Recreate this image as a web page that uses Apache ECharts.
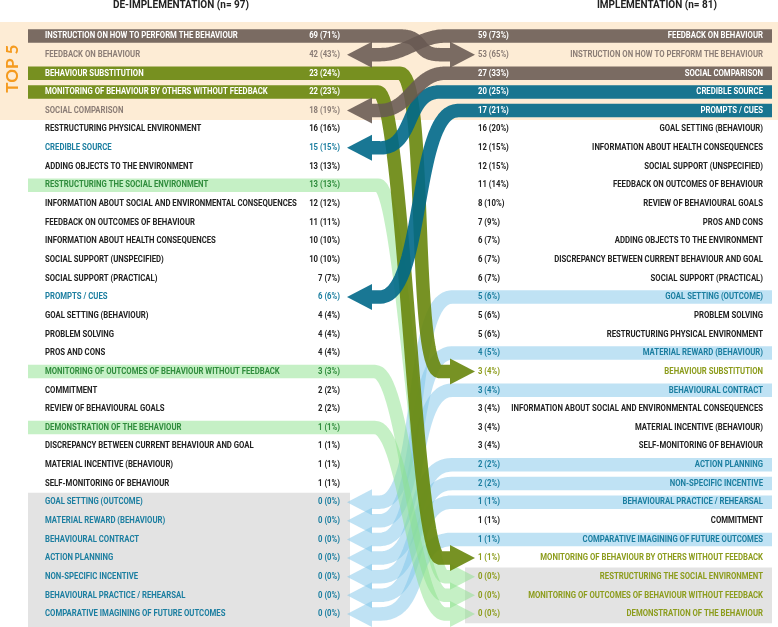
<!DOCTYPE html>
<html><head><meta charset="utf-8">
<script src="https://cdn.jsdelivr.net/npm/echarts@6/dist/echarts.min.js"></script>
<style>html,body{margin:0;padding:0;background:#fff}#c{width:778px;height:627px}</style>
</head><body><div id="c"></div>
<script>
// ---------------- DATA ----------------
const leftTitle = 'DE-IMPLEMENTATION (n= 97)';
const rightTitle = 'IMPLEMENTATION (n= 81)';
const topLabel = 'TOP 5';
const leftLabels = [
 'INSTRUCTION ON HOW TO PERFORM THE BEHAVIOUR','FEEDBACK ON BEHAVIOUR','BEHAVIOUR SUBSTITUTION',
 'MONITORING OF BEHAVIOUR BY OTHERS WITHOUT FEEDBACK','SOCIAL COMPARISON','RESTRUCTURING PHYSICAL ENVIRONMENT',
 'CREDIBLE SOURCE','ADDING OBJECTS TO THE ENVIRONMENT','RESTRUCTURING THE SOCIAL ENVIRONMENT',
 'INFORMATION ABOUT SOCIAL AND ENVIRONMENTAL CONSEQUENCES','FEEDBACK ON OUTCOMES OF BEHAVIOUR',
 'INFORMATION ABOUT HEALTH CONSEQUENCES','SOCIAL SUPPORT (UNSPECIFIED)','SOCIAL SUPPORT (PRACTICAL)',
 'PROMPTS / CUES','GOAL SETTING (BEHAVIOUR)','PROBLEM SOLVING','PROS AND CONS',
 'MONITORING OF OUTCOMES OF BEHAVIOUR WITHOUT FEEDBACK','COMMITMENT','REVIEW OF BEHAVIOURAL GOALS',
 'DEMONSTRATION OF THE BEHAVIOUR','DISCREPANCY BETWEEN CURRENT BEHAVIOUR AND GOAL',
 'MATERIAL INCENTIVE (BEHAVIOUR)','SELF-MONITORING OF BEHAVIOUR','GOAL SETTING (OUTCOME)',
 'MATERIAL REWARD (BEHAVIOUR)','BEHAVIOURAL CONTRACT','ACTION PLANNING','NON-SPECIFIC INCENTIVE',
 'BEHAVIOURAL PRACTICE / REHEARSAL','COMPARATIVE IMAGINING OF FUTURE OUTCOMES'
];
const leftCounts   = [69,42,23,22,18,16,15,13,13,12,11,10,10,7,6,4,4,4,3,2,2,1,1,1,1,0,0,0,0,0,0,0];
const leftPercents = [71,43,24,23,19,16,15,13,13,12,11,10,10,7,6,4,4,4,3,2,2,1,1,1,1,0,0,0,0,0,0,0];
const rightLabels = [
 'FEEDBACK ON BEHAVIOUR','INSTRUCTION ON HOW TO PERFORM THE BEHAVIOUR','SOCIAL COMPARISON','CREDIBLE SOURCE',
 'PROMPTS / CUES','GOAL SETTING (BEHAVIOUR)','INFORMATION ABOUT HEALTH CONSEQUENCES','SOCIAL SUPPORT (UNSPECIFIED)',
 'FEEDBACK ON OUTCOMES OF BEHAVIOUR','REVIEW OF BEHAVIOURAL GOALS','PROS AND CONS','ADDING OBJECTS TO THE ENVIRONMENT',
 'DISCREPANCY BETWEEN CURRENT BEHAVIOUR AND GOAL','SOCIAL SUPPORT (PRACTICAL)','GOAL SETTING (OUTCOME)',
 'PROBLEM SOLVING','RESTRUCTURING PHYSICAL ENVIRONMENT','MATERIAL REWARD (BEHAVIOUR)','BEHAVIOUR SUBSTITUTION',
 'BEHAVIOURAL CONTRACT','INFORMATION ABOUT SOCIAL AND ENVIRONMENTAL CONSEQUENCES','MATERIAL INCENTIVE (BEHAVIOUR)',
 'SELF-MONITORING OF BEHAVIOUR','ACTION PLANNING','NON-SPECIFIC INCENTIVE','BEHAVIOURAL PRACTICE / REHEARSAL',
 'COMMITMENT','COMPARATIVE IMAGINING OF FUTURE OUTCOMES','MONITORING OF BEHAVIOUR BY OTHERS WITHOUT FEEDBACK',
 'RESTRUCTURING THE SOCIAL ENVIRONMENT','MONITORING OF OUTCOMES OF BEHAVIOUR WITHOUT FEEDBACK','DEMONSTRATION OF THE BEHAVIOUR'
];
const rightCounts   = [59,53,27,20,17,16,12,12,11,8,7,6,6,6,5,5,5,4,3,3,3,3,3,2,2,1,1,1,1,0,0,0];
const rightPercents = [73,65,33,25,21,20,15,15,14,10,9,7,7,7,6,6,6,5,4,4,4,4,4,2,2,1,1,1,1,0,0,0];
// links: [fromSide, fromRow, toRow, group]
const links = [
 ['R',14,25,'blue'],['R',17,26,'blue'],['R',19,27,'blue'],['R',23,28,'blue'],
 ['R',24,29,'blue'],['R',25,30,'blue'],['R',27,31,'blue'],
 ['L',8,29,'lightgreen'],['L',18,30,'lightgreen'],['L',21,31,'lightgreen'],
 ['L',2,18,'olive'],['L',3,28,'olive'],
 ['R',3,6,'teal'],['R',4,14,'teal'],
 ['L',0,1,'brown'],['R',0,1,'brown'],['R',2,4,'brown']
];
const topRows = 5;

// ---------------- STYLE / LAYOUT ----------------
const ribbonColor = {
  brown:'rgba(104,89,82,0.88)', teal:'rgba(0,104,136,0.9)', olive:'rgba(104,134,12,0.9)',
  lightgreen:'rgba(140,226,140,0.5)', blue:'rgba(128,198,234,0.5)'
};
const targetText = {brown:'#8b7d76', teal:'#1b7ea0', blue:'#1b7ea0', olive:'#8c9c1c', lightgreen:'#8c9c1c'};
const sourceText = {brown:'#ffffff', teal:'#ffffff', olive:'#ffffff', lightgreen:'#2f8c3c', blue:'#1b7ea0'};
const darkText = '#222222';
// geometry per link: [curveStartX, curveEndX, tangentLen]
const linkGeom = [
 [452,380,45],[452,380,45],[452,380,45],[452,380,45],[452,380,45],[452,380,45],[452,380,45],
 [378,445,25],[375,445,30],[375,445,30],
 [400,440,28],[378,440,25],
 [440,380,35],[458,380,45],
 [400,440,25],[445,380,25],[445,380,30]
];
const LX0 = 28, LX1 = 772, BAND = 13.5, HEAD_HALF = 13, HEAD_LEN = 25;
const L_HEAD_BASE = 372, R_HEAD_BASE = 450;
const FONT = 'bold 9px Roboto, sans-serif';
const TEXT_SCALE = 0.86;

function cubicPts(p0,p1,p2,p3,n){
  const out=[];
  for(let k=1;k<=n;k++){const t=k/n,u=1-t;
    out.push([u*u*u*p0[0]+3*u*u*t*p1[0]+3*u*t*t*p2[0]+t*t*t*p3[0],
              u*u*u*p0[1]+3*u*u*t*p1[1]+3*u*t*t*p2[1]+t*t*t*p3[1]]);}
  return out;
}

const rowStyleL = leftLabels.map(()=>darkText);
const rowStyleR = rightLabels.map(()=>darkText);
links.forEach(l=>{
  if(l[0]==='L'){ rowStyleL[l[1]] = sourceText[l[3]]; rowStyleR[l[2]] = targetText[l[3]]; }
  else { rowStyleR[l[1]] = sourceText[l[3]]; rowStyleL[l[2]] = targetText[l[3]]; }
});

function txt(x,y,text,fill,align){
  return {type:'text',x:x,y:y,scaleX:TEXT_SCALE,
    style:{text:text,fill:fill,font:FONT,align:align,verticalAlign:'middle',textAlign:align,textVerticalAlign:'middle'}};
}

const chart = echarts.init(document.getElementById('c'), null, {renderer:'canvas'});
const option = {
  animation:false,
  backgroundColor:'#ffffff',
  title:[
    {text:leftTitle, left:181, top:0, textAlign:'center', padding:0,
     textStyle:{fontSize:10, fontWeight:'bold', color:'#222', fontFamily:'Roboto, sans-serif'}},
    {text:rightTitle, left:657, top:0, textAlign:'center', padding:0,
     textStyle:{fontSize:10, fontWeight:'bold', color:'#222', fontFamily:'Roboto, sans-serif'}}
  ],
  grid:{left:0,right:0,top:26.68,bottom:3.68},
  xAxis:{type:'value',min:0,max:778,show:false},
  yAxis:{type:'value',min:-0.5,max:31.5,inverse:true,show:false},
  series:[
    { // backgrounds
      type:'custom', z:1, clip:false, data:[[0,0]],
      renderItem:function(params, api){
        const a=api.coord([0,-0.75]), b=api.coord([778,topRows-0.5]);
        const g1=api.coord([LX0,24.5]), g2=api.coord([350,31.72]);
        const h1=api.coord([465,28.5]), h2=api.coord([LX1,31.5]);
        const t=api.coord([13,1.75]);
        return {type:'group',children:[
          {type:'rect',shape:{x:a[0],y:a[1],width:b[0]-a[0],height:b[1]-a[1]},style:{fill:'#fdecd5'}},
          {type:'rect',shape:{x:g1[0],y:g1[1],width:g2[0]-g1[0],height:g2[1]-g1[1]},style:{fill:'#e3e3e3'}},
          {type:'rect',shape:{x:h1[0],y:h1[1],width:h2[0]-h1[0],height:h2[1]-h1[1]},style:{fill:'#e3e3e3'}},
          {type:'text',x:t[0],y:t[1],rotation:Math.PI/2,
           style:{text:topLabel,fill:'#f59b1f',font:'bold 17px Lato, "Open Sans", sans-serif',
                  align:'center',verticalAlign:'middle',textAlign:'center',textVerticalAlign:'middle'}}
        ]};
      }
    },
    { // ribbons
      type:'custom', z:2, clip:false,
      data: links.map(l=>[l[1],l[2]]),
      renderItem:function(params, api){
        const i=params.dataIndex, l=links[i], g=linkGeom[i];
        const col=ribbonColor[l[3]];
        let pts, head;
        if(l[0]==='L'){
          const s=api.coord([LX0,l[1]]), c1=api.coord([g[0],l[1]]), c2=api.coord([g[1],l[2]]), e=api.coord([R_HEAD_BASE,l[2]]);
          const tip=api.coord([R_HEAD_BASE+HEAD_LEN,l[2]]);
          pts=[s,c1].concat(cubicPts(c1,[c1[0]+g[2],c1[1]],[c2[0]-g[2],c2[1]],c2,40)); pts.push(e);
          head=[[e[0],e[1]-HEAD_HALF],[tip[0],tip[1]],[e[0],e[1]+HEAD_HALF]];
        } else {
          const s=api.coord([LX1,l[1]]), c1=api.coord([g[0],l[1]]), c2=api.coord([g[1],l[2]]), e=api.coord([L_HEAD_BASE,l[2]]);
          const tip=api.coord([L_HEAD_BASE-HEAD_LEN,l[2]]);
          pts=[s,c1].concat(cubicPts(c1,[c1[0]-g[2],c1[1]],[c2[0]+g[2],c2[1]],c2,40)); pts.push(e);
          head=[[e[0],e[1]-HEAD_HALF],[tip[0],tip[1]],[e[0],e[1]+HEAD_HALF]];
        }
        return {type:'group',children:[
          {type:'polyline',shape:{points:pts},style:{stroke:col,lineWidth:BAND,fill:null,lineJoin:'round',lineCap:'butt'}},
          {type:'polygon',shape:{points:head},style:{fill:col}}
        ]};
      }
    },
    { // left texts
      type:'custom', z:3, clip:false,
      data: leftLabels.map((s,i)=>[i,leftCounts[i]]),
      renderItem:function(params, api){
        const i=params.dataIndex;
        const p=api.coord([45,i]), q=api.coord([340,i]);
        const c=rowStyleL[i];
        return {type:'group',children:[
          txt(p[0],p[1],leftLabels[i],c,'left'),
          txt(q[0],q[1],leftCounts[i]+' ('+leftPercents[i]+'%)',c,'right')
        ]};
      }
    },
    { // right texts
      type:'custom', z:3, clip:false,
      data: rightLabels.map((s,i)=>[i,rightCounts[i]]),
      renderItem:function(params, api){
        const i=params.dataIndex;
        const p=api.coord([763,i]), q=api.coord([478,i]);
        const c=rowStyleR[i];
        return {type:'group',children:[
          txt(p[0],p[1],rightLabels[i],c,'right'),
          txt(q[0],q[1],rightCounts[i]+' ('+rightPercents[i]+'%)',c,'left')
        ]};
      }
    }
  ]
};
chart.setOption(option);
</script>
</body></html>
